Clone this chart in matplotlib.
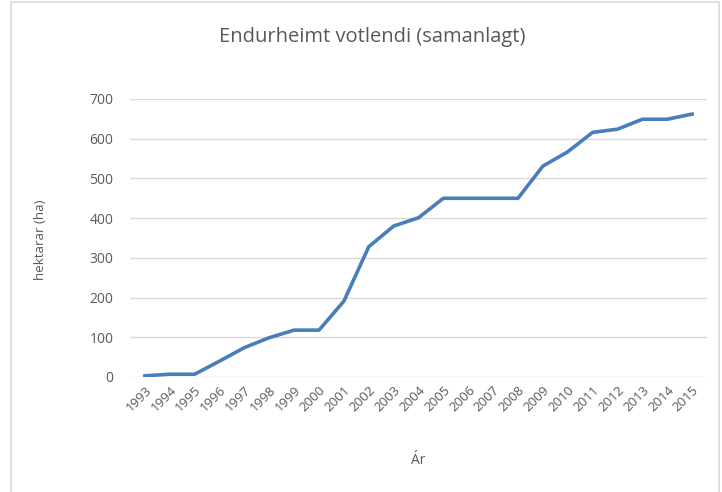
import matplotlib
matplotlib.use("Agg")
import matplotlib.pyplot as plt
from matplotlib.patches import Rectangle

# Gögn
ar = [str(a) for a in range(1993, 2016)]
hektarar = [3, 7, 7, 40, 74, 99, 118, 118, 191, 328, 380, 401,
            450, 450, 450, 450, 531, 567, 616, 624, 649, 649, 662]
y_ticks = [0, 100, 200, 300, 400, 500, 600, 700]

grar = '#595959'
plt.rcParams['font.family'] = ['Open Sans', 'DejaVu Sans']

fig = plt.figure(figsize=(7.22, 4.92), dpi=100)
ax = fig.add_axes([130 / 722, 1 - 377 / 492, 577 / 722, 278 / 492])

# Ramminn utan um grafið
fig.patches.append(Rectangle((11 / 722, -0.01), 708 / 722, 1 - 2 / 492 + 0.01,
                             transform=fig.transFigure, fill=False,
                             edgecolor='#d9d9d9', linewidth=1.2))

x = list(range(len(ar)))
ax.plot(x, hektarar, color='#4a7ebb', linewidth=2.6, solid_joinstyle='round')

ax.set_xlim(-0.6, len(ar) - 0.4)
ax.set_ylim(0, 700)
ax.set_yticks(y_ticks)
ax.set_xticks(x)
ax.set_xticklabels(ar, rotation=45, ha='right', rotation_mode='anchor')
ax.grid(axis='y', color='#d9d9d9', linewidth=1)
ax.set_axisbelow(True)
for s in ax.spines.values():
    s.set_visible(False)
ax.tick_params(length=0, colors=grar)
ax.tick_params(axis='y', pad=12, labelsize=10)
ax.tick_params(axis='x', pad=5, labelsize=9.5)

fig.text(372 / 722, 1 - 37 / 492, 'Endurheimt votlendi (samanlagt)', fontsize=14.5,
         color=grar, ha='center', va='center')
fig.text(40 / 722, 1 - 240 / 492, 'hektarar (ha)', fontsize=9.5, color=grar,
         rotation=90, ha='center', va='center')
fig.text(418 / 722, 1 - 460 / 492, 'Ár', fontsize=10, color=grar,
         ha='center', va='center')

fig.savefig('out.png', dpi=100)
